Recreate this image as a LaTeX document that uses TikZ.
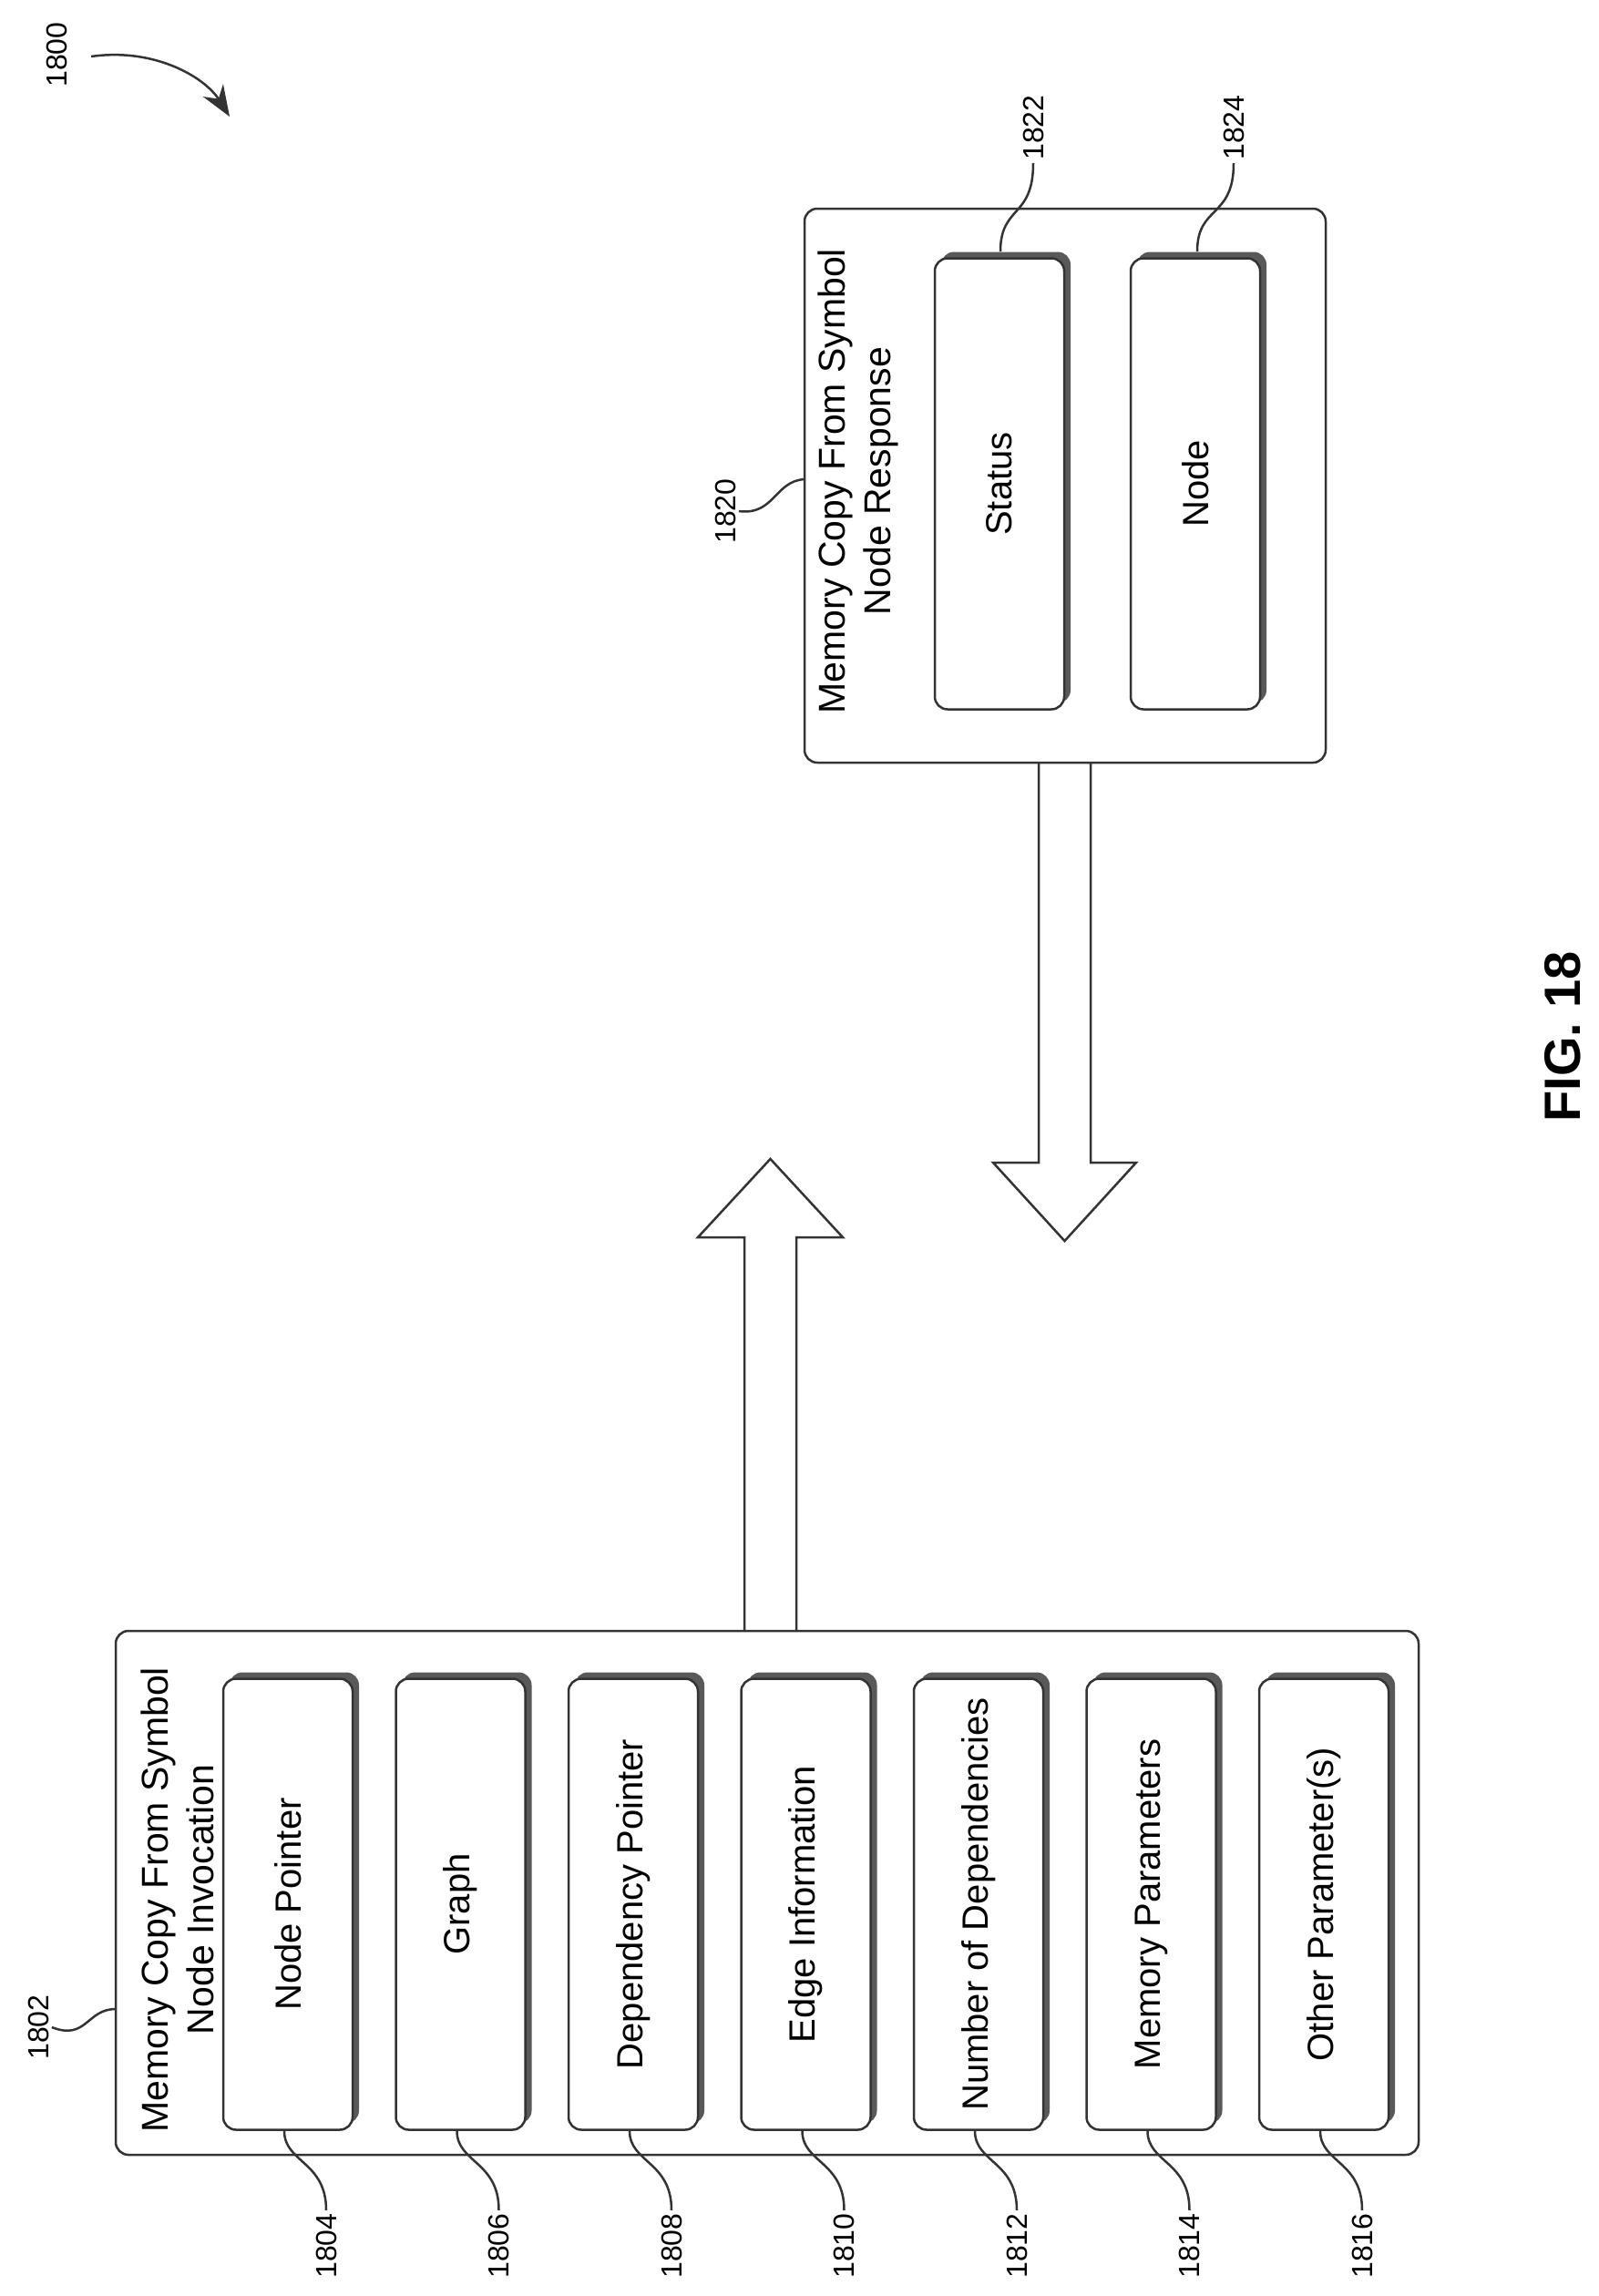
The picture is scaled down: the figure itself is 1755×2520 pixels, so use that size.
\documentclass[tikz,border=0pt]{standalone}
\usepackage{fontspec}
\setmainfont{Liberation Sans}
\usetikzlibrary{shadows,arrows.meta}
\tikzset{
  outer/.style={draw=black!80, line width=2.5pt, rounded corners=14pt, fill=white},
  field/.style={draw=black!80, line width=2.5pt, rounded corners=14pt, fill=white,
    minimum width=142pt, minimum height=495pt, inner sep=0pt, font=\fontsize{40}{48}\selectfont,
    drop shadow={shadow xshift=7pt, shadow yshift=7pt, fill=black!65, opacity=1}},
  ref/.style={font=\fontsize{32}{38}\selectfont, rotate=90},
  lead/.style={draw=black!80, line width=2.5pt},
  fat/.style={draw=black!80, line width=2.5pt, fill=white, line join=miter},
}
\begin{document}
\begin{tikzpicture}[x=1pt, y=-1pt]
  \useasboundingbox (0,0) rectangle (1755,2520);
  % figure number and arrow
  \node[ref] (n1800) at (62,60) {1800};
  \draw[lead, -{Stealth[length=34pt, width=26pt]}] (100,62) .. controls (170,52) and (225,85) .. (252,128);
  % hollow arrows
  \draw[fat] (817,1800) -- (817,1358) -- (766,1358) -- (845.5,1272) -- (925,1358) -- (874,1358) -- (874,1800);
  \draw[fat] (1140,827) -- (1140,1276) -- (1090,1276) -- (1168.5,1362) -- (1247,1276) -- (1197,1276) -- (1197,827);
  % invocation
  \node[outer, minimum width=1430pt, minimum height=575pt] (inv) at (842,2077.5) {};
  \node[rotate=90, align=center, font=\fontsize{41}{50}\selectfont] (invt) at (195,2085)
    {Memory Copy From Symbol\\Node Invocation};
  \node[ref] (n1802) at (42,2225) {1802};
  \draw[lead] (n1802.south) .. controls (95,2240) and (95,2205) .. (127,2205);
  \foreach \i/\t/\n in {0/Node Pointer/1804, 1/Graph/1806, 2/Dependency Pointer/1808,
      3/Edge Information/1810, 4/Number of Dependencies/1812, 5/Memory Parameters/1814,
      6/Other Parameter(s)/1816} {
    \node[field] (f\i) at (316+189.5*\i,2090) {\rotatebox{90}{\t}};
    \node[ref] (r\i) at (358+189.5*\i,2465) {\n};
    \draw[lead] (f\i.south) ++(-4,0) coordinate (s\i) .. controls +(0,35) and (358+189.5*\i,2372) .. (r\i.east);
  }
  % response
  \node[outer, minimum width=572pt, minimum height=608pt] (rsp) at (1169,533) {};
  \node[rotate=90, align=center, font=\fontsize{41}{50}\selectfont] (rspt) at (942,528)
    {Memory Copy From Symbol\\Node Response};
  \node[field] (st) at (1097,531) {\rotatebox{90}{Status}};
  \node[field] (nd) at (1312,531) {\rotatebox{90}{Node}};
  \node[ref] (n1820) at (796,561) {1820};
  \draw[lead] (n1820.south) .. controls (850,566) and (850,528) .. (883,526);
  \node[ref] (n1822) at (1134,140) {1822};
  \node[ref] (n1824) at (1354,140) {1824};
  \draw[lead] (n1822.west) .. controls (1134,240) and (1098,225) .. (1098,276);
  \draw[lead] (n1824.west) .. controls (1354,240) and (1314,225) .. (1314,276);
  \node[rotate=90, font=\bfseries\fontsize{56}{64}\selectfont] (fig) at (1715,1138) {FIG. 18};
\end{tikzpicture}
\end{document}
